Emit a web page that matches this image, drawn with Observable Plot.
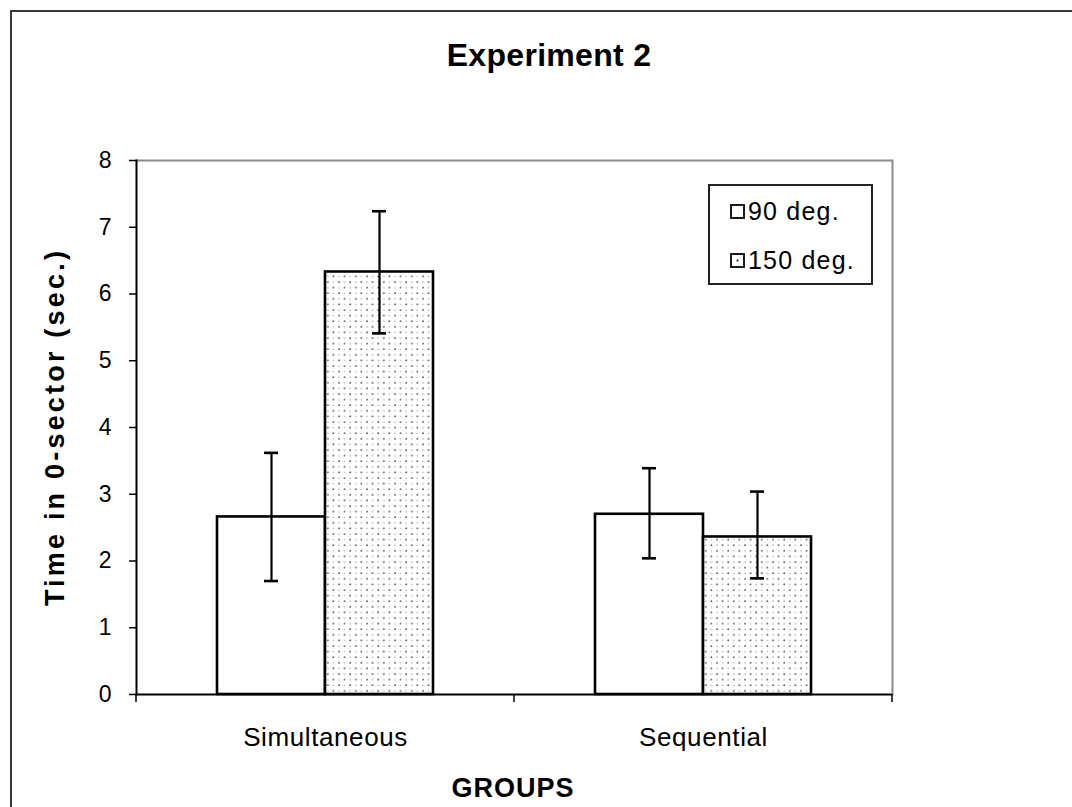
<!DOCTYPE html>
<html><head><meta charset="utf-8">
<script src="https://cdn.jsdelivr.net/npm/d3@7"></script>
<script src="https://cdn.jsdelivr.net/npm/@observablehq/plot@0.6"></script>
<style>
body{margin:0;background:#fff;font-family:"Liberation Sans",Arial,sans-serif;color:#000;}
#wrap{position:relative;width:1072px;height:807px;overflow:hidden;background:#fff;}
#border{position:absolute;left:10px;top:10px;width:1200px;height:1000px;border-left:2px solid #3a3a3a;border-top:2px solid #3a3a3a;}
#chart{position:absolute;left:0;top:0;}
#title{position:absolute;left:0;width:1098px;top:37px;text-align:center;font-weight:bold;font-size:32px;letter-spacing:0.3px;}
#ylabel{position:absolute;left:55px;top:427px;transform:translate(-50%,-50%) rotate(-90deg);white-space:nowrap;font-weight:bold;font-size:27px;letter-spacing:3.2px;}
#xlabel{position:absolute;left:513px;top:788px;transform:translate(-50%,-50%);font-weight:bold;font-size:27px;letter-spacing:1px;}
#legend{position:absolute;left:708px;top:184px;width:161px;height:97px;border:2px solid #222;background:#fff;}
.item{position:absolute;left:20px;display:flex;align-items:center;font-size:25px;letter-spacing:1.2px;white-space:nowrap;}
.item svg{margin-right:3px;}
#chart g[aria-label="y-axis tick label"] text{font-size:23px !important;}
#chart g[aria-label="fx-axis tick label"] text{font-size:26px !important;letter-spacing:0.6px;}
</style></head>
<body>
<svg width="0" height="0" style="position:absolute">
  <defs>
    <pattern id="dots" patternUnits="userSpaceOnUse" width="11.2" height="11.2">
      <rect width="11.2" height="11.2" fill="#fff"/>
      <circle cx="2" cy="2" r="0.8" fill="#333"/>
      <circle cx="7.6" cy="7.6" r="0.8" fill="#333"/>
      <circle cx="7.6" cy="2" r="0.7" fill="#9a9a9a"/>
      <circle cx="2" cy="7.6" r="0.7" fill="#9a9a9a"/>
    </pattern>
  </defs>
</svg>
<div id="wrap">
  <div id="border"></div>
  <div id="chart"></div>
  <div id="title">Experiment 2</div>
  <div id="ylabel">Time in 0-sector (sec.)</div>
  <div id="xlabel">GROUPS</div>
  <div id="legend"></div>
</div>
<script>
const groups = ["Simultaneous", "Sequential"];
const series = ["90 deg.", "150 deg."];
const mean90 = [2.66, 2.70];
const mean150 = [6.33, 2.36];
const lo90 = [1.70, 2.04];
const hi90 = [3.62, 3.39];
const lo150 = [5.41, 1.74];
const hi150 = [7.24, 3.04];
const yTicks = [0, 1, 2, 3, 4, 5, 6, 7, 8];
const seriesFill = ["#fff", "url(#dots)"];

const rows = groups.flatMap((g, i) => [
  {group: g, series: series[0], mean: mean90[i], lo: lo90[i], hi: hi90[i]},
  {group: g, series: series[1], mean: mean150[i], lo: lo150[i], hi: hi150[i]}
]);

const plot = Plot.plot({
  width: 1072, height: 807,
  marginLeft: 135, marginRight: 180, marginTop: 160, marginBottom: 113,
  style: {fontFamily: "Liberation Sans, Arial, sans-serif", fontSize: "22px", color: "#000", background: "transparent", overflow: "visible"},
  fx: {domain: groups, padding: 0, label: null},
  x: {domain: series, paddingInner: 0, paddingOuter: 0.75, axis: null},
  y: {domain: [0, 8], axis: null},
  marks: [
    Plot.ruleY([8], {stroke: "#8a8a8a", strokeWidth: 2}),
    Plot.frame({anchor: "right", stroke: "#8a8a8a", strokeWidth: 2, fx: () => groups[1]}),
    Plot.barY(rows, {filter: d => d.series === series[0], fx: "group", x: "series", y: "mean", fill: seriesFill[0], stroke: "#000", strokeWidth: 2.6}),
    Plot.barY(rows, {filter: d => d.series === series[1], fx: "group", x: "series", y: "mean", fill: seriesFill[1], stroke: "#000", strokeWidth: 2.6}),
    Plot.ruleX(rows, {fx: "group", x: "series", y1: "lo", y2: "hi", stroke: "#000", strokeWidth: 2.2}),
    Plot.tickY(rows, {fx: "group", x: "series", y: "hi", insetLeft: 47, insetRight: 47, stroke: "#000", strokeWidth: 2.6}),
    Plot.tickY(rows, {fx: "group", x: "series", y: "lo", insetLeft: 47, insetRight: 47, stroke: "#000", strokeWidth: 2.6}),
    Plot.ruleY([0], {stroke: "#000", strokeWidth: 2}),
    Plot.frame({anchor: "left", stroke: "#000", strokeWidth: 2, fx: () => groups[0]}),
    Plot.axisY({ticks: yTicks, tickSize: 7, tickPadding: 18, label: null, fontSize: 23, stroke: "#000", strokeWidth: 1.5, tickFormat: d => d}),
    Plot.axisFx({anchor: "bottom", tickSize: 0, tickPadding: 33, label: null, fontSize: 26})
  ]
});

// boundary ticks on the category axis, placed through the library's scales
const fxs = plot.scale("fx");
const ys = plot.scale("y");
const bounds = groups.map(g => fxs.apply(g)).concat([fxs.apply(groups[groups.length - 1]) + fxs.bandwidth]);
const y0 = ys.apply(0);
d3.select(plot).append("g")
  .selectAll("line").data(bounds).join("line")
  .attr("x1", d => d).attr("x2", d => d)
  .attr("y1", y0).attr("y2", y0 + 8)
  .attr("stroke", "#000").attr("stroke-width", 1.5);

document.getElementById("chart").appendChild(plot);

// legend
const legend = d3.select("#legend");
series.forEach((s, i) => {
  const item = legend.append("div").attr("class", "item").style("top", (i === 0 ? 11 : 60) + "px");
  const sw = item.append("svg").attr("width", 15).attr("height", 15);
  sw.append("rect").attr("x", 1).attr("y", 1).attr("width", 13).attr("height", 13)
    .attr("fill", "#fff").attr("stroke", "#000").attr("stroke-width", 1.8);
  if (i === 1) sw.append("circle").attr("cx", 7.5).attr("cy", 7.5).attr("r", 1).attr("fill", "#000");
  item.append("span").text(s);
});
</script>
</body></html>
